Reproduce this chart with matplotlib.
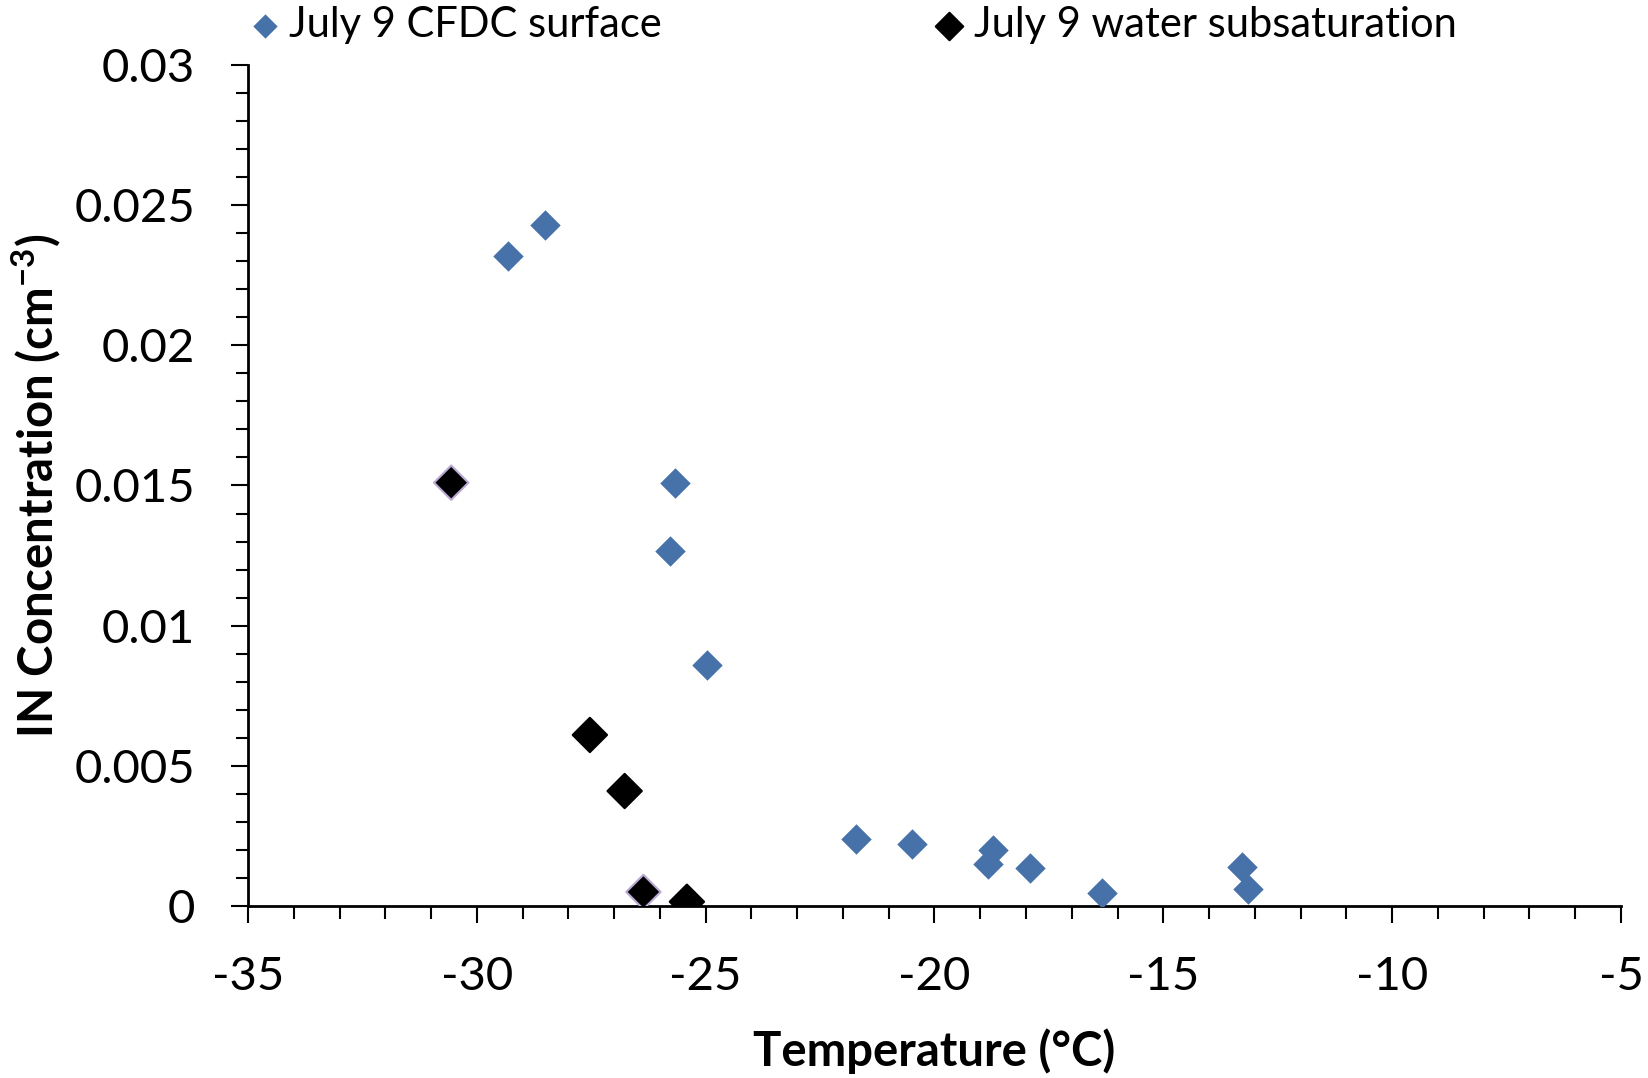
import numpy as np
import matplotlib.pyplot as plt
from matplotlib.ticker import MultipleLocator, FixedLocator, FixedFormatter

plt.rcParams['font.family'] = ['Lato', 'DejaVu Sans']
plt.rcParams['axes.unicode_minus'] = False
plt.rcParams['mathtext.fontset'] = 'custom'
plt.rcParams['mathtext.bf'] = 'Lato:bold'
plt.rcParams['mathtext.rm'] = 'Lato'

# July 9 CFDC surface
surf_T = [-29.32, -28.52, -25.67, -25.78, -24.98, -21.72, -20.49, -18.72,
          -18.84, -17.92, -16.33, -13.28, -13.14]
surf_N = [0.0232, 0.0243, 0.0151, 0.01265, 0.0086, 0.0024, 0.0022, 0.0020,
          0.0015, 0.00135, 0.00045, 0.0014, 0.0006]

# July 9 water subsaturation
sub_T = [-30.56, -27.53, -26.77, -26.36, -25.41]
sub_N = [0.0151, 0.0061, 0.0041, 0.0005, 0.00015]
sub_edge = ['#b9a9d3', 'black', 'black', '#b9a9d3', 'black']

yticks = [0, 0.005, 0.01, 0.015, 0.02, 0.025, 0.03]
ylabels = ['0', '0.005', '0.01', '0.015', '0.02', '0.025', '0.03']
xticks = [-35, -30, -25, -20, -15, -10, -5]

blue = '#4672a9'

fig = plt.figure(figsize=(16.49, 10.78), dpi=100)
ax = fig.add_axes([0.1504, 0.1596, 0.8326, 0.7801])

ax.scatter(surf_T, surf_N, marker='D', s=15.5**2, color=blue, linewidths=0,
           label='July 9 CFDC surface', zorder=3)
ax.scatter(sub_T, sub_N, marker='D', s=17.5**2, color='black',
           edgecolors=sub_edge, linewidths=1.5,
           label='July 9 water subsaturation', zorder=4)

ax.set_xlim(-35, -5)
ax.set_ylim(0, 0.03)
ax.xaxis.set_major_locator(FixedLocator(xticks))
ax.xaxis.set_minor_locator(MultipleLocator(1))
ax.yaxis.set_major_locator(FixedLocator(yticks))
ax.yaxis.set_major_formatter(FixedFormatter(ylabels))
ax.yaxis.set_minor_locator(MultipleLocator(0.001))

for s in ['top', 'right']:
    ax.spines[s].set_visible(False)
for s in ['left', 'bottom']:
    ax.spines[s].set_linewidth(2)

ax.tick_params(which='major', length=12, width=1.5, labelsize=34)
ax.tick_params(which='minor', length=9, width=1.5)
ax.tick_params(axis='y', which='major', pad=26)
ax.tick_params(axis='x', which='major', pad=24)

ax.set_xlabel('Temperature (°C)', fontsize=34, fontweight='bold')
ax.set_ylabel(r'IN Concentration (cm$^{\mathbf{-3}}$)', fontsize=34, fontweight='bold')
ax.yaxis.set_label_coords(-0.135, 0.5)
ax.xaxis.set_label_coords(0.5, -0.145)

leg = fig.legend(loc='center left', bbox_to_anchor=(0.1405, 1 - 25 / 1078), ncol=2,
                 frameon=False, fontsize=30, markerscale=0.8, handletextpad=0.18,
                 handlelength=0.8, columnspacing=6.5, borderaxespad=0)
leg.legend_handles[1].set_edgecolor('black')

fig.savefig('out.png', dpi=100)
